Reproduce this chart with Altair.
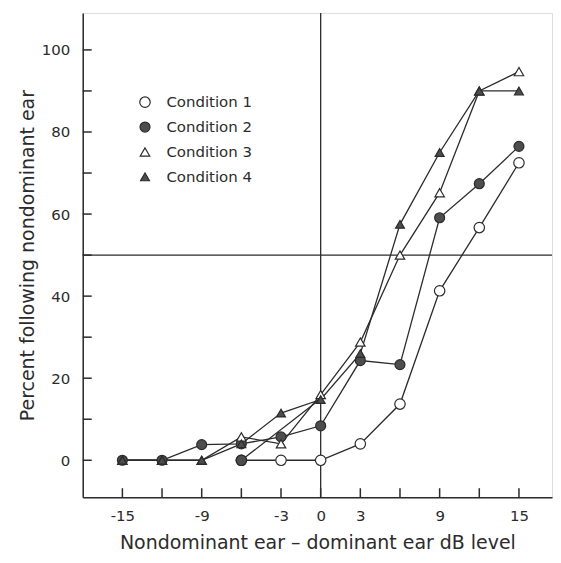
import altair as alt
import pandas as pd

# ---- data ----
conditions = ["Condition 1", "Condition 2", "Condition 3", "Condition 4"]
x_levels = [-15, -12, -9, -6, -3, 0, 3, 6, 9, 12, 15]

cond1_x = [-6, -3, 0, 3, 6, 9, 12, 15]
cond1_y = [0, 0, 0, 4, 13.7, 41.3, 56.7, 72.5]
cond2_y = [0, 0, 3.8, 4, 5.7, 8.4, 24.3, 23.3, 59.1, 67.4, 76.5]
cond3_y = [0, 0, 0, 5.7, 4, 16, 28.8, 50, 65.2, 90, 94.7]
cond4_y = [0, 0, 0, 4, 11.5, 14.8, 26, 57.5, 75, 90, 90]

# stray trace visible in the original (filled dot at -6 joined to 0 dB)
stray_x = [-6, 0]
stray_y = [0, 15]

x_tick_values = [-15, -12, -9, -6, -3, 0, 3, 6, 9, 12, 15]
x_label_values = [-15, -9, -3, 0, 3, 9, 15]
y_tick_values = [0, 10, 20, 30, 40, 50, 60, 70, 80, 90, 100]
y_label_values = [0, 20, 40, 60, 80, 100]
ref_x = [0]
ref_y = [50]

# ---- tables ----
rows = []
for xv, yv in zip(cond1_x, cond1_y):
    rows.append({"x": xv, "y": yv, "condition": conditions[0]})
for name, ys in zip(conditions[1:], [cond2_y, cond3_y, cond4_y]):
    for xv, yv in zip(x_levels, ys):
        rows.append({"x": xv, "y": yv, "condition": name})
df = pd.DataFrame(rows)
stray = pd.DataFrame({"x": stray_x, "y": stray_y})
xt = pd.DataFrame({"t": x_tick_values})
yt = pd.DataFrame({"t": y_tick_values})

FONT = "DejaVu Sans"
INK = "#2b2b2b"
W, H = 471, 486

xscale = alt.Scale(domain=[-18, 17.5], nice=False, zero=False)
yscale = alt.Scale(domain=[-9, 109], nice=False, zero=False)

xenc = alt.X("x:Q", scale=xscale, axis=alt.Axis(
    values=x_label_values, tickSize=0, grid=False, labelFontSize=15,
    labelPadding=11, labelExpr="'' + datum.value",
    title="Nondominant ear \u2013 dominant ear dB level",
    titleFontSize=19, titleFontWeight="normal", titlePadding=10,
    domainColor=INK, domainWidth=1.5, labelColor=INK, titleColor=INK,
    labelFont=FONT, titleFont=FONT))
yenc = alt.Y("y:Q", scale=yscale, axis=alt.Axis(
    values=y_label_values, tickSize=0, grid=False, labelFontSize=15,
    labelPadding=13, title="Percent following nondominant ear",
    titleFontSize=19, titleFontWeight="normal", titlePadding=4,
    domainColor=INK, domainWidth=1.5, labelColor=INK, titleColor=INK,
    labelFont=FONT, titleFont=FONT))

lines = alt.Chart(df).mark_line(color=INK, strokeWidth=1.3).encode(
    x=xenc, y=yenc, detail="condition:N", order="x:Q")

stray_line = alt.Chart(stray).mark_line(color=INK, strokeWidth=1.3).encode(
    x="x:Q", y="y:Q")
stray_dot = alt.Chart(stray.iloc[[0]]).mark_point(
    filled=True, color="#4d4d4d", stroke=INK, strokeWidth=1.2, size=110, opacity=1
).encode(x="x:Q", y="y:Q")

legend = alt.Legend(
    title=None, orient="none", legendX=55, legendY=82,
    labelFontSize=15, labelFont=FONT, labelColor=INK, labelOffset=14,
    rowPadding=9, symbolStrokeWidth=1.2, symbolOpacity=1)

points = alt.Chart(df).mark_point(filled=True, strokeWidth=1.2, opacity=1).encode(
    x="x:Q", y="y:Q",
    shape=alt.Shape("condition:N", scale=alt.Scale(
        domain=conditions, range=["circle", "circle", "triangle-up", "triangle-up"]), legend=legend),
    fill=alt.Fill("condition:N", scale=alt.Scale(
        domain=conditions, range=["white", "#4d4d4d", "white", "#4d4d4d"]), legend=legend),
    stroke=alt.Stroke("condition:N", scale=alt.Scale(
        domain=conditions, range=[INK, INK, INK, INK]), legend=legend),
    size=alt.Size("condition:N", scale=alt.Scale(
        domain=conditions, range=[110, 80, 120, 110]), legend=legend),
    order=alt.Order("condition:N"),
)

vline = alt.Chart(pd.DataFrame({"x": ref_x})).mark_rule(color=INK, strokeWidth=1.3).encode(x="x:Q")
hline = alt.Chart(pd.DataFrame({"y": ref_y})).mark_rule(color=INK, strokeWidth=1.3).encode(y="y:Q")

xticks = alt.Chart(xt).mark_rule(color=INK, strokeWidth=1.5).encode(
    x="t:Q", y=alt.value(H), y2=alt.value(H - 9))
yticks = alt.Chart(yt).mark_rule(color=INK, strokeWidth=1.5).encode(
    y="t:Q", x=alt.value(0), x2=alt.value(9))

chart = alt.layer(
    vline, hline, xticks, yticks, lines, stray_line, points, stray_dot
).properties(
    width=W, height=H,
    padding={"left": 10, "top": 3, "right": 0, "bottom": 0},
).configure_view(stroke=None).configure(background="white")

chart.save("out.html", embed_options={"renderer": "svg", "actions": False})
